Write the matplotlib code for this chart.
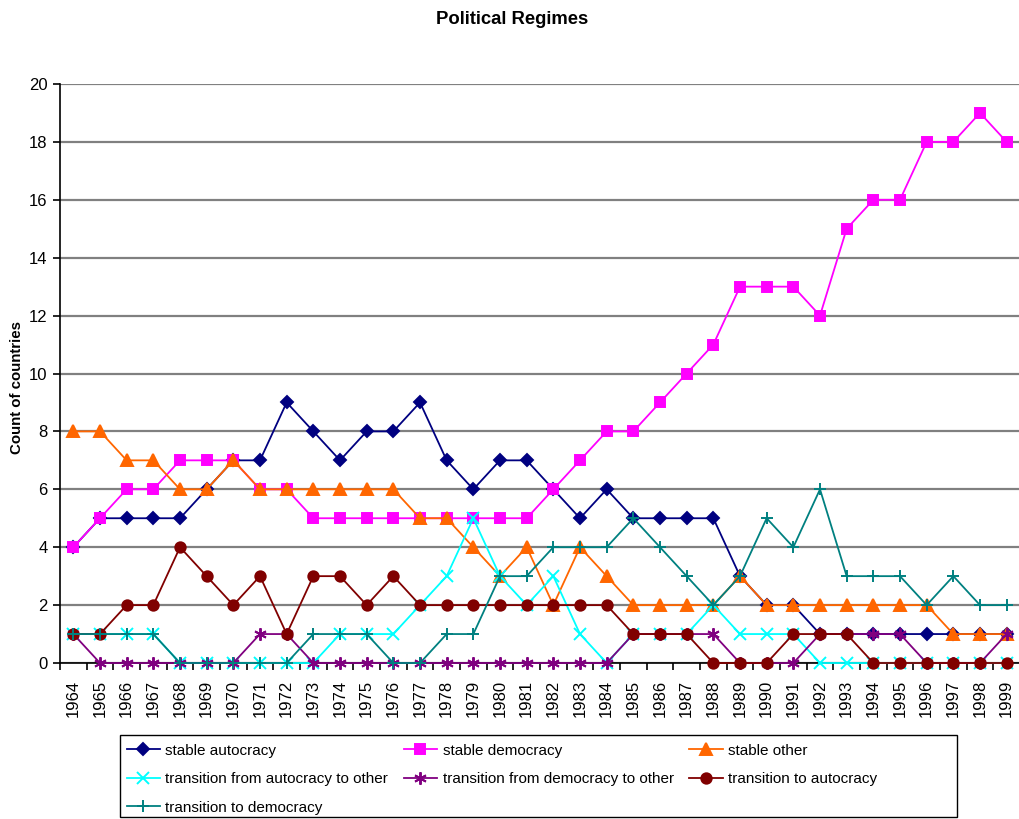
import matplotlib
matplotlib.use("Agg")
import matplotlib.pyplot as plt
from matplotlib.patches import Rectangle
import numpy as np

years = list(range(1964, 2000))

stable_autocracy = [4, 5, 5, 5, 5, 6, 7, 7, 9, 8, 7, 8, 8, 9, 7, 6, 7, 7, 6, 5, 6, 5, 5, 5, 5, 3, 2, 2, 1, 1, 1, 1, 1, 1, 1, 1]
stable_democracy = [4, 5, 6, 6, 7, 7, 7, 6, 6, 5, 5, 5, 5, 5, 5, 5, 5, 5, 6, 7, 8, 8, 9, 10, 11, 13, 13, 13, 12, 15, 16, 16, 18, 18, 19, 18]
stable_other = [8, 8, 7, 7, 6, 6, 7, 6, 6, 6, 6, 6, 6, 5, 5, 4, 3, 4, 2, 4, 3, 2, 2, 2, 2, 3, 2, 2, 2, 2, 2, 2, 2, 1, 1, 1]
trans_aut_other = [1, 1, 1, 1, 0, 0, 0, 0, 0, 0, 1, 1, 1, 2, 3, 5, 3, 2, 3, 1, 0, 1, 1, 1, 2, 1, 1, 1, 0, 0, 0, 0, 0, 0, 0, 0]
trans_dem_other = [1, 0, 0, 0, 0, 0, 0, 1, 1, 0, 0, 0, 0, 0, 0, 0, 0, 0, 0, 0, 0, 1, 1, 1, 1, 0, 0, 0, 1, 1, 1, 1, 0, 0, 0, 1]
trans_to_autocracy = [1, 1, 2, 2, 4, 3, 2, 3, 1, 3, 3, 2, 3, 2, 2, 2, 2, 2, 2, 2, 2, 1, 1, 1, 0, 0, 0, 1, 1, 1, 0, 0, 0, 0, 0, 0]
trans_to_democracy = [1, 1, 1, 1, 0, 0, 0, 0, 0, 1, 1, 1, 0, 0, 1, 1, 3, 3, 4, 4, 4, 5, 4, 3, 2, 3, 5, 4, 6, 3, 3, 3, 2, 3, 2, 2]

series = [
    ("stable autocracy", stable_autocracy, "#000080", "D", 6.5),
    ("stable democracy", stable_democracy, "#FF00FF", "s", 7),
    ("stable other", stable_other, "#FF6600", "^", 8),
    ("transition from autocracy to other", trans_aut_other, "#00FFFF", "x", 8),
    ("transition from democracy to other", trans_dem_other, "#800080", (6, 2, 0), 9),
    ("transition to autocracy", trans_to_autocracy, "#800000", "o", 7.5),
    ("transition to democracy", trans_to_democracy, "#008080", "+", 9),
]

font = ["Liberation Sans", "DejaVu Sans"]

W, H = 1020, 819
fig = plt.figure(figsize=(W / 100, H / 100), dpi=100)
ax = fig.add_axes([60 / W, 1 - 663 / H, (1020 - 60) / W, (663 - 84) / H])

x = np.arange(len(years))
handles = []
for label, vals, color, marker, ms in series:
    h, = ax.plot(x, vals, color=color, lw=1.3, marker=marker, ms=ms,
                 mfc=color, mec=color, mew=1.4, label=label, clip_on=False, zorder=3)
    handles.append(h)

ax.set_xlim(-0.5, len(years) - 0.5)
ax.set_ylim(0, 20)
ax.set_yticks(range(0, 21, 2))
ax.yaxis.grid(True, color="#808080", lw=1.6)
ax.set_axisbelow(True)
for s in ["top", "right"]:
    ax.spines[s].set_visible(False)
ax.spines["left"].set_linewidth(1.2)
ax.spines["bottom"].set_linewidth(1.2)

ax.set_xticks(np.arange(-0.5, len(years), 1.0))
ax.set_xticklabels([])
ax.set_xticks(x, minor=True)
ax.set_xticklabels([str(y) for y in years], minor=True, rotation=90,
                   fontfamily=font, fontsize=12)
ax.tick_params(axis="x", which="major", direction="out", length=5, width=1.2)
ax.tick_params(axis="x", which="minor", length=0, pad=12)
ax.tick_params(axis="y", direction="out", length=5, width=1.2, pad=4)
for t in ax.get_yticklabels():
    t.set_fontfamily(font)
    t.set_fontsize(12)

fig.text(17 / W, 1 - 388 / H, "Count of countries", rotation=90, ha="center",
         va="center", fontweight="bold", fontsize=10.8, fontfamily=font)
fig.text(512 / W, 1 - 19 / H, "Political Regimes", ha="center", va="center",
         fontweight="bold", fontsize=13.3, fontfamily=font)

fig.patches.append(Rectangle((120 / W, 1 - 817 / H), (957 - 120) / W, (817 - 735) / H,
                             transform=fig.transFigure, fill=False, ec="black", lw=1.0))
# row-wise order for a 3-column legend (matplotlib fills column by column)
order = [0, 3, 6, 1, 4, 2, 5]
leg = fig.legend(handles=[handles[i] for i in order], loc="upper left",
                 bbox_to_anchor=(125 / W, 1 - 742 / H),
                 ncol=3, frameon=False, prop={"family": font, "size": 11.0},
                 handlelength=2.2, handletextpad=0.35, columnspacing=1.0,
                 labelspacing=0.95, borderaxespad=0, borderpad=0.1)

fig.savefig("out.png", dpi=100)
